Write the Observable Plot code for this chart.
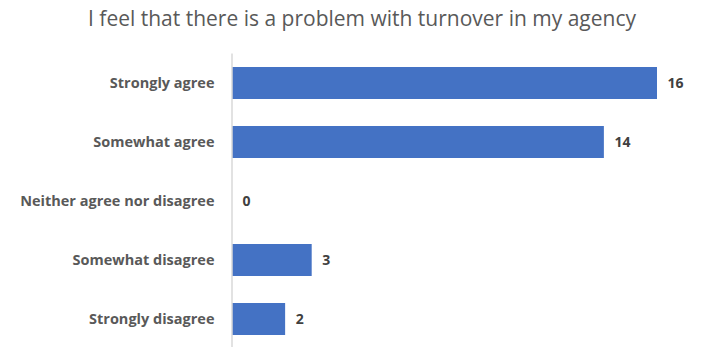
<!DOCTYPE html>
<html>
<head>
<meta charset="utf-8">
<script src="https://cdn.jsdelivr.net/npm/d3@7"></script>
<script src="https://cdn.jsdelivr.net/npm/@observablehq/plot@0.6"></script>
<style>
  html, body { margin: 0; padding: 0; background: #fff; overflow: hidden; }
  #title { height: 45px; font-family: "Open Sans", sans-serif; font-size: 21px; color: #595959;
           text-align: left; line-height: 36px; padding-left: 88px; box-sizing: border-box; width: 701px; white-space: nowrap; }
</style>
</head>
<body>
<div id="title">I feel that there is a problem with turnover in my agency</div>
<div id="chart"></div>
<script>
const categories = ["Strongly agree", "Somewhat agree", "Neither agree nor disagree", "Somewhat disagree", "Strongly disagree"];
const counts = [16, 14, 0, 3, 2];
const data = categories.map((c, i) => ({category: c, count: counts[i]}));

const chart = Plot.plot({
  width: 701,
  height: 304,
  marginTop: 8.5,
  marginBottom: 0,
  marginLeft: 232,
  marginRight: 44,
  style: {fontFamily: "Open Sans, sans-serif", background: "#fff"},
  x: {domain: [0, 16], axis: null},
  y: {domain: categories, paddingInner: 0.46, paddingOuter: 0.23, label: null},
  marks: [
    Plot.barX(data, {x: "count", y: "category", fill: "#4472C4"}),
    Plot.ruleX([0], {stroke: "#d9d9d9", strokeWidth: 1.5, dx: -0.5}),
    Plot.axisY({tickSize: 0, tickPadding: 18, fontSize: 14.5, fontWeight: "bold", fill: "#595959", label: null}),
    Plot.text(data, {x: "count", y: "category", text: d => String(d.count), dx: 10, textAnchor: "start",
                     fontSize: 14, fontWeight: "bold", fill: "#404040"})
  ]
});
document.getElementById("chart").appendChild(chart);
</script>
</body>
</html>
